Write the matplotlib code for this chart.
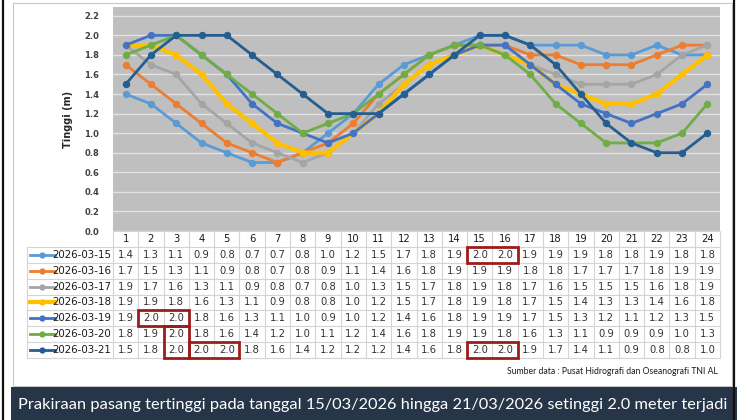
import matplotlib.pyplot as plt
from matplotlib.patches import Rectangle
from matplotlib.lines import Line2D

hours = list(range(1, 25))
dates = ['2026-03-15', '2026-03-16', '2026-03-17', '2026-03-18',
         '2026-03-19', '2026-03-20', '2026-03-21']
tide = [
    [1.4, 1.3, 1.1, 0.9, 0.8, 0.7, 0.7, 0.8, 1.0, 1.2, 1.5, 1.7, 1.8, 1.9, 2.0, 2.0, 1.9, 1.9, 1.9, 1.8, 1.8, 1.9, 1.8, 1.8],
    [1.7, 1.5, 1.3, 1.1, 0.9, 0.8, 0.7, 0.8, 0.9, 1.1, 1.4, 1.6, 1.8, 1.9, 1.9, 1.9, 1.8, 1.8, 1.7, 1.7, 1.7, 1.8, 1.9, 1.9],
    [1.9, 1.7, 1.6, 1.3, 1.1, 0.9, 0.8, 0.7, 0.8, 1.0, 1.3, 1.5, 1.7, 1.8, 1.9, 1.8, 1.7, 1.6, 1.5, 1.5, 1.5, 1.6, 1.8, 1.9],
    [1.9, 1.9, 1.8, 1.6, 1.3, 1.1, 0.9, 0.8, 0.8, 1.0, 1.2, 1.5, 1.7, 1.8, 1.9, 1.8, 1.7, 1.5, 1.4, 1.3, 1.3, 1.4, 1.6, 1.8],
    [1.9, 2.0, 2.0, 1.8, 1.6, 1.3, 1.1, 1.0, 0.9, 1.0, 1.2, 1.4, 1.6, 1.8, 1.9, 1.9, 1.7, 1.5, 1.3, 1.2, 1.1, 1.2, 1.3, 1.5],
    [1.8, 1.9, 2.0, 1.8, 1.6, 1.4, 1.2, 1.0, 1.1, 1.2, 1.4, 1.6, 1.8, 1.9, 1.9, 1.8, 1.6, 1.3, 1.1, 0.9, 0.9, 0.9, 1.0, 1.3],
    [1.5, 1.8, 2.0, 2.0, 2.0, 1.8, 1.6, 1.4, 1.2, 1.2, 1.2, 1.4, 1.6, 1.8, 2.0, 2.0, 1.9, 1.7, 1.4, 1.1, 0.9, 0.8, 0.8, 1.0],
]
colors = ['#5B9BD5', '#ED7D31', '#A5A5A5', '#FFC000', '#4472C4', '#70AD47', '#255E91']
widths = [2.0, 2.0, 2.0, 3.0, 2.0, 2.0, 2.0]
# highlighted cells: (row, first hour, last hour, rows spanned)
highlights = [(0, 15, 16, 1), (4, 2, 3, 1), (5, 3, 3, 2), (6, 4, 5, 1), (6, 15, 16, 1)]
yticks = [0.0, 0.2, 0.4, 0.6, 0.8, 1.0, 1.2, 1.4, 1.6, 1.8, 2.0, 2.2]
source = 'Sumber data : Pusat Hidrografi dan Oseanografi TNI AL'
banner = 'Prakiraan pasang tertinggi pada tanggal 15/03/2026 hingga 21/03/2026 setinggi 2.0 meter terjadi'

W, H = 750, 420
fig = plt.figure(figsize=(W / 100, H / 100), dpi=100)

def box(l, t, r, b):
    return [l / W, 1 - b / H, (r - l) / W, (b - t) / H]

# frame
fig.patches.append(Rectangle((13 / W, 1 - 386 / H), 719 / W, 383 / H, transform=fig.transFigure,
                             fc='white', ec='#c8c8c8', lw=0.8, zorder=-5))
fig.patches.append(Rectangle((11 / W, 0), 726 / W, 1 - 387 / H, transform=fig.transFigure,
                             fc='#263548', ec='none', zorder=-4))
for xp in (3, 734):
    fig.add_artist(Line2D([xp / W, xp / W], [0, 1], transform=fig.transFigure, color='#111111', lw=1.6))

# chart
ax = fig.add_axes(box(113, 7, 720, 231))
ax.set_facecolor('#bfbfbf')
for i, d in enumerate(dates):
    ax.plot(hours, tide[i], color=colors[i], lw=widths[i], marker='o', ms=4.3, zorder=3)
ax.set_xlim(0.5, 24.5)
ax.set_ylim(0, 2.29)
ax.set_yticks(yticks)
ax.set_yticklabels([f'{v:.1f}' for v in yticks], fontsize=6, fontweight='bold', color='#404040')
ax.set_xticks([])
ax.tick_params(axis='y', length=0, pad=10)
ax.grid(axis='y', color='#e2e2e2', lw=1)
ax.set_axisbelow(True)
for s in ax.spines.values():
    s.set_visible(False)
ax.set_ylabel('Tinggi (m)', fontsize=7, fontweight='bold', labelpad=8, color='#262626')

# table
tb = fig.add_axes(box(113, 231, 720, 358))
tb.set_xlim(0.5, 24.5)
tb.set_ylim(len(dates) + 0.5, -0.5)
tb.axis('off')
gc = '#d4d4d4'
left = -2.9
for h in hours:
    tb.text(h, 0, str(h), ha='center', va='center', fontsize=7.2, color='#1a1a1a')
for i, d in enumerate(dates):
    r = i + 1
    for h, v in zip(hours, tide[i]):
        tb.text(h, r, f'{v:.1f}', ha='center', va='center', fontsize=7.2, color='#333333')
    tb.text(0.42, r, d, ha='right', va='center', fontsize=7.4, color='#1a1a1a', clip_on=False)
    tb.plot([left + 0.1, left + 1.1], [r, r], color=colors[i], lw=widths[i], clip_on=False)
    tb.plot([left + 0.6], [r], marker='o', ms=3.5, color=colors[i], clip_on=False)
# grid lines
tb.hlines([-0.5], 0.5, 24.5, color=gc, lw=0.8, clip_on=False)
tb.hlines([r + 0.5 for r in range(len(dates) + 1)], left, 24.5, color=gc, lw=0.8, clip_on=False)
tb.vlines([h + 0.5 for h in hours], -0.5, len(dates) + 0.5, color=gc, lw=0.8, clip_on=False)
tb.vlines([0.5], -0.5, len(dates) + 0.5, color=gc, lw=0.8, clip_on=False)
tb.vlines([left], 0.5, len(dates) + 0.5, color=gc, lw=0.8, clip_on=False)
for row, h0, h1, span in highlights:
    tb.add_patch(Rectangle((h0 - 0.5, row + 0.5), h1 - h0 + 1, span, fill=False,
                           ec='#9e1b1b', lw=2, clip_on=False, zorder=5))

fig.text(718 / W, 1 - 371 / H, source, ha='right', va='center', fontsize=6.2,
         family='Lato', color='#1a1a1a')
fig.text(373 / W, 1 - 405 / H, banner, ha='center', va='center', fontsize=11.8,
         family='Lato', color='white')

fig.savefig('out.png', dpi=100)
